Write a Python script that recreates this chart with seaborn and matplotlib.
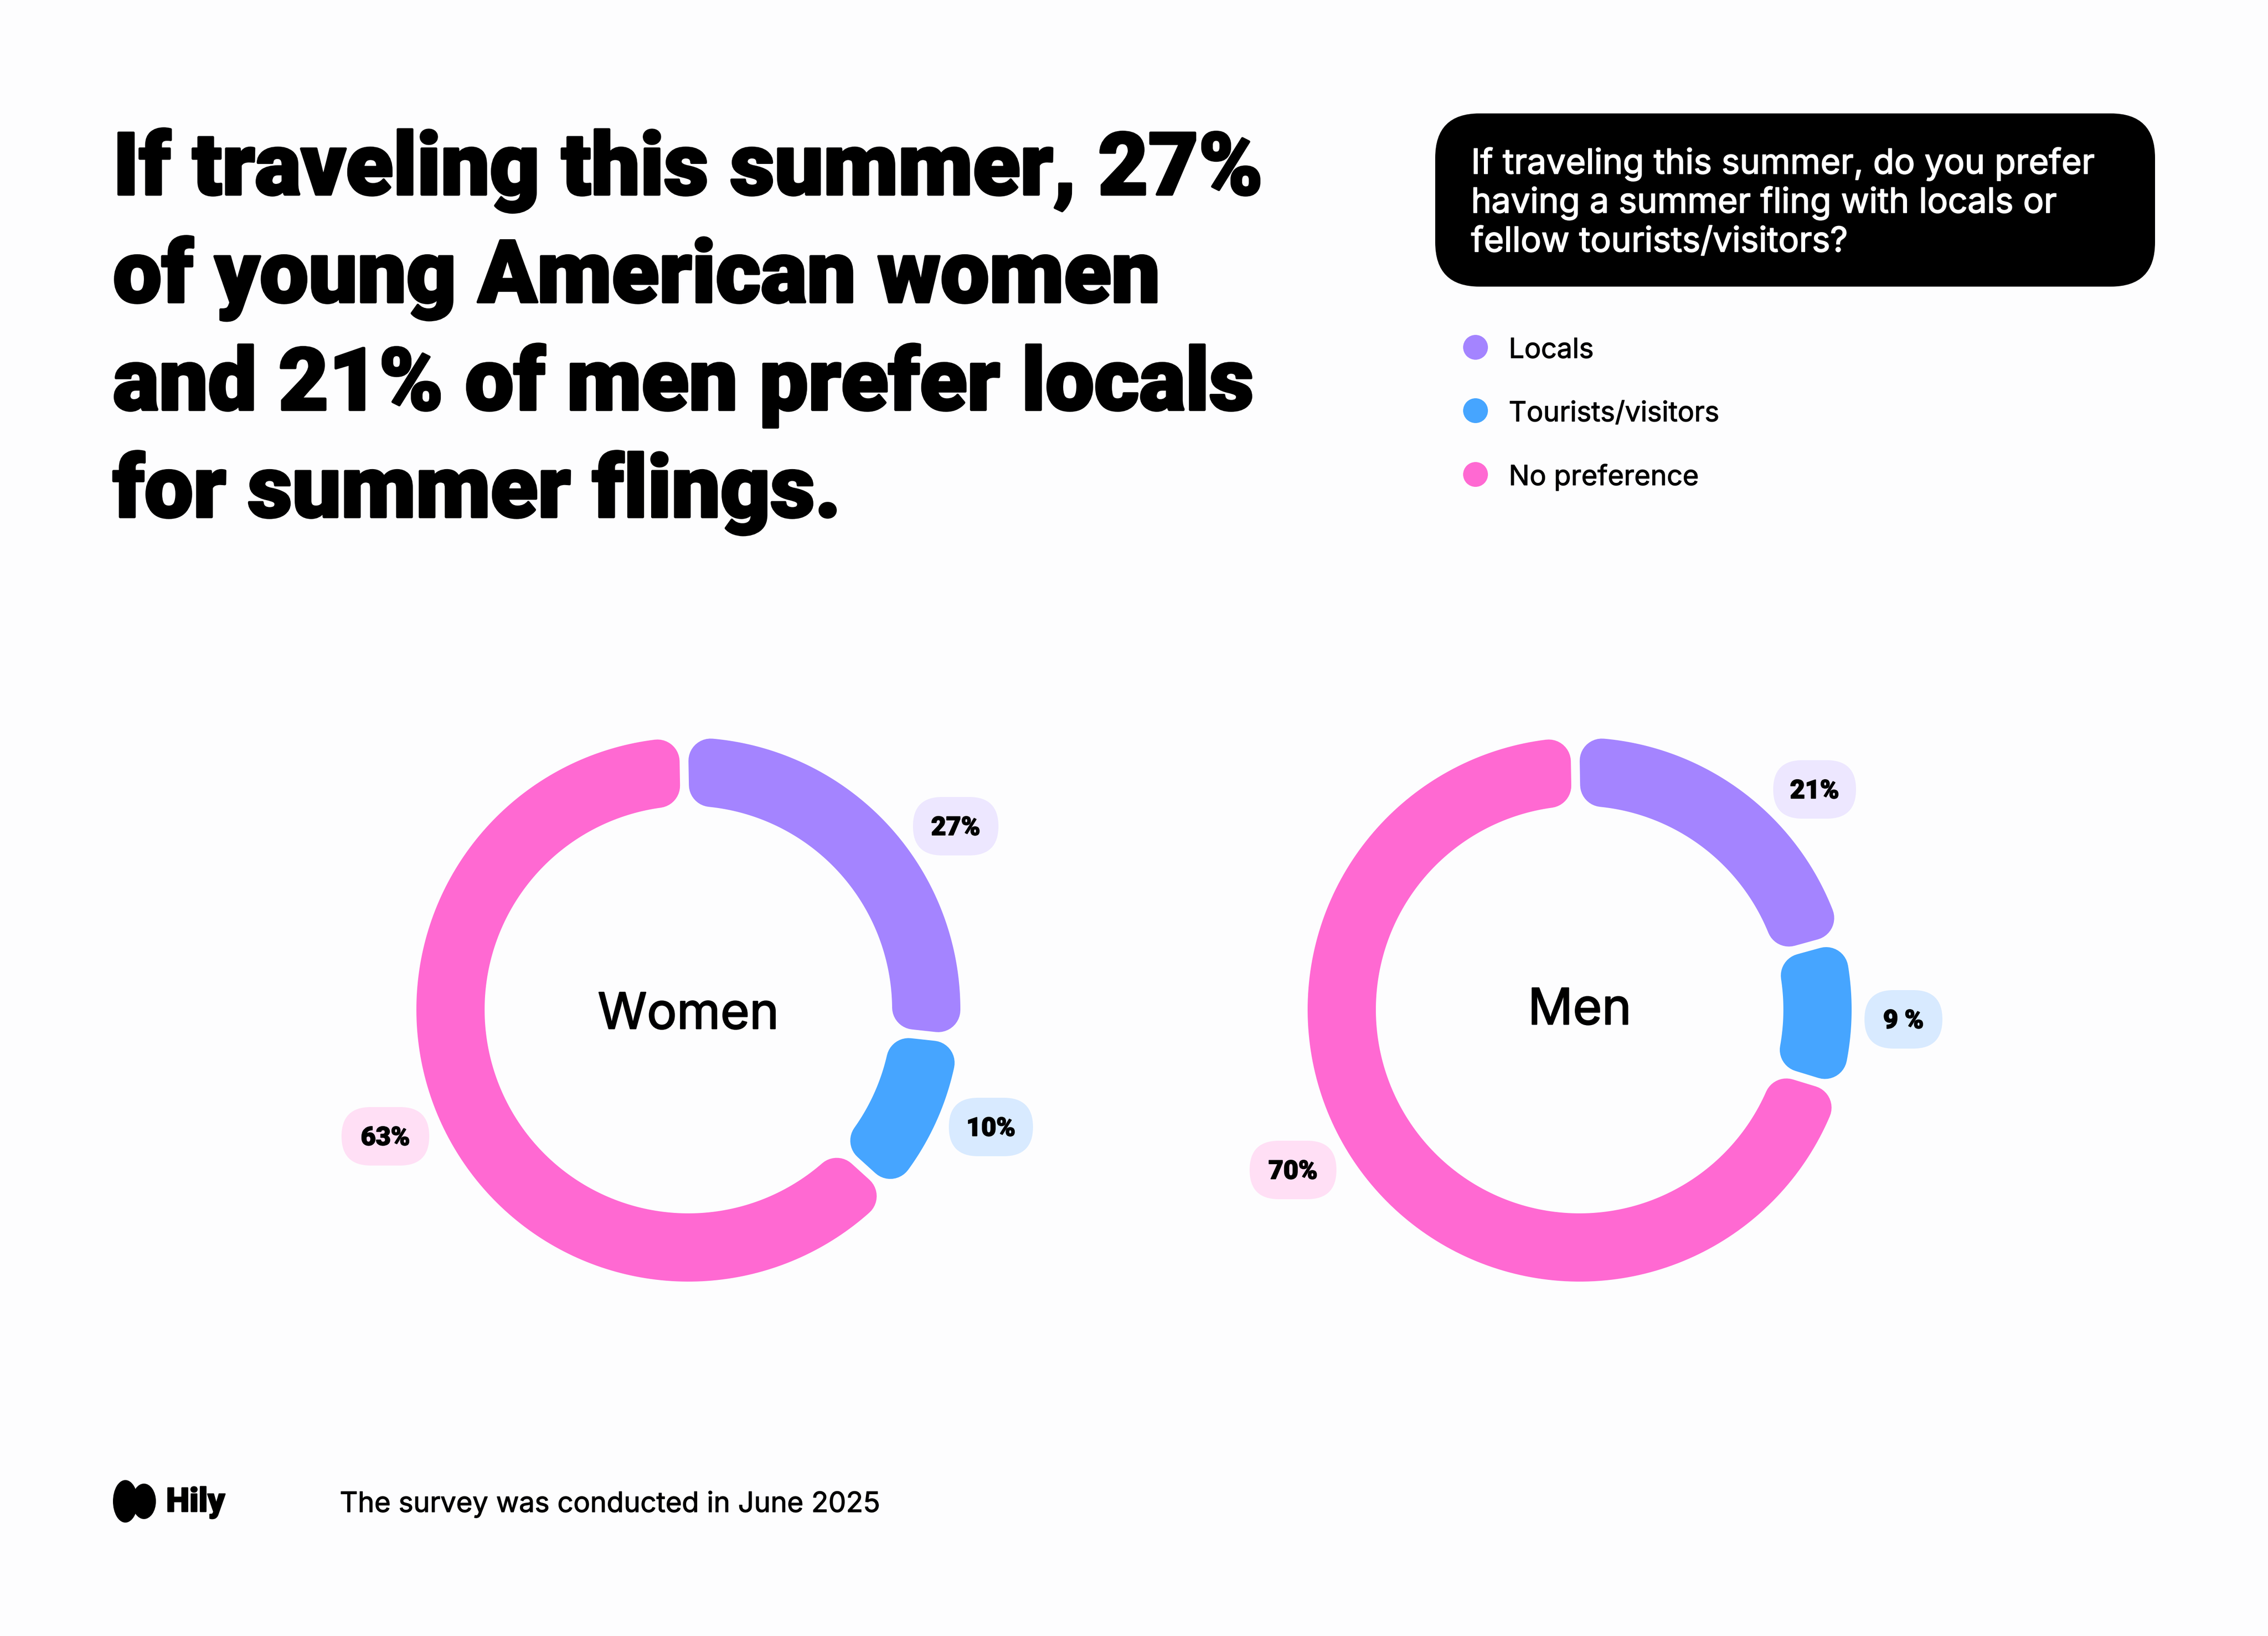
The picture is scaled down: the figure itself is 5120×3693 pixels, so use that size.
import numpy as np
import matplotlib
matplotlib.use('Agg')
import matplotlib.pyplot as plt
import matplotlib.patheffects as pe
from matplotlib.patches import FancyBboxPatch, Ellipse, Rectangle
import seaborn as sns

categories = ['Locals', 'Tourists/visitors', 'No preference']
colors = ['#A484FF', '#46A5FF', '#FF69D2']
pill_colors = ['#EDE7FF', '#D8EAFF', '#FFDFF5']

women_values = [27, 10, 63]
men_values = [21, 9, 70]
women_labels = ['27%', '10%', '63%']
men_labels = ['21%', '9 %', '70%']

title_lines = ['If traveling this summer, 27%', 'of young American women',
               'and 21% of men prefer locals', 'for summer flings.']
question_lines = ['If traveling this summer, do you prefer',
                  'having a summer fling with locals or',
                  'fellow tourists/visitors?']
footer = 'The survey was conducted in June 2025'

W, H = 5120, 3693
BG = '#FDFDFE'
R_OUT, R_IN = 614, 460
CORNER = 50
GAP = 20
TEXT_FONT = ['Inter', 'DejaVu Sans']
HEAVY_FONT = ['Roboto', 'DejaVu Sans']

sns.set_theme(style='white')
plt.rcParams['font.family'] = TEXT_FONT

fig = plt.figure(figsize=(W / 100, H / 100), dpi=100, facecolor=BG)
ax = fig.add_axes([0, 0, 1, 1])
ax.set_xlim(0, W)
ax.set_ylim(H, 0)
ax.set_axis_off()


def px_text(x, y, s, size, bold=0.0, **kw):
    # bold is an extra stroke in points, the installed fonts are lighter than the original
    t = ax.text(x, y, s, fontsize=size, va='baseline', **kw)
    if bold:
        t.set_path_effects([pe.withStroke(linewidth=bold, foreground=t.get_color())])
    return t


def pill(x0, y0, x1, y1, rad, color):
    ax.add_patch(FancyBboxPatch((x0 + rad, y0 + rad), x1 - x0 - 2 * rad, y1 - y0 - 2 * rad,
                                boxstyle='round,pad=%d,rounding_size=%d' % (rad, rad),
                                fc=color, ec='none'))


def donut(cx, cy, values, name, name_y):
    # polar axes in pixel units so r is the same scale as the page
    pax = fig.add_axes([(cx - R_OUT) / W, 1 - (cy + R_OUT) / H, 2 * R_OUT / W, 2 * R_OUT / H],
                       projection='polar')
    pax.set_theta_zero_location('N')
    pax.set_theta_direction(-1)
    pax.set_ylim(0, R_OUT)
    pax.set_axis_off()
    pax.patch.set_alpha(0)
    ends = np.cumsum([0] + values) / sum(values) * 2 * np.pi - np.deg2rad(1)
    lw_pt = 2 * CORNER * 72 / 100
    for i in range(3):
        r_o = R_OUT - CORNER
        r_i = R_IN + CORNER
        off_o = np.arcsin((GAP / 2 + CORNER) / r_o)
        off_i = np.arcsin((GAP / 2 + CORNER) / r_i)
        t_o = np.linspace(ends[i] + off_o, ends[i + 1] - off_o, 200)
        t_i = np.linspace(ends[i + 1] - off_i, ends[i] + off_i, 200)
        pax.fill(np.r_[t_o, t_i], np.r_[np.full(200, r_o), np.full(200, r_i)],
                 facecolor=colors[i], edgecolor=colors[i], linewidth=lw_pt,
                 joinstyle='round', clip_on=False)
    ax.set_zorder(pax.get_zorder() + 1)
    px_text(cx, name_y, name, 81, bold=2, ha='center', color='black')


# title
for line, y in zip(title_lines, [439, 682, 925, 1167]):
    px_text(255, y, line, 141, bold=4, color='black', family=HEAVY_FONT, weight='black')

# question box and legend
pill(3240, 256, 4865, 647, 100, 'black')
for line, y in zip(question_lines, [392, 480, 568]):
    px_text(3321, y, line, 56, bold=1.5, color='white')

sns.scatterplot(x=[3331, 3331, 3331], y=[784, 927, 1071], hue=categories, palette=colors,
                s=(56 * 0.72) ** 2, linewidth=0, legend=False, ax=ax)
for cat, y in zip(categories, [808, 951, 1095]):
    px_text(3406, y, cat, 45, bold=1, color='black')

# donuts
donut(1554, 2279, women_values, 'Women', 2322)
donut(3566, 2279, men_values, 'Men', 2312)

boxes = [(2061, 1799, 2254, 1931), (2142, 2478, 2332, 2610), (771, 2499, 969, 2631),
         (4003, 1716, 4190, 1848), (4209, 2235, 4385, 2367), (2821, 2575, 3017, 2707)]
for (x0, y0, x1, y1), lab, c in zip(boxes, women_labels + men_labels, pill_colors * 2):
    pill(x0, y0, x1, y1, 66, c)
    px_text((x0 + x1) / 2, (y0 + y1) / 2 + 20, lab, 42, bold=1.5, ha='center', color='black',
            family=HEAVY_FONT, weight='black')

# footer and logo
ax.add_patch(Ellipse((283, 3389), 56, 96, fc='black', ec='none'))
ax.add_patch(Ellipse((325, 3389), 54, 80, fc='black', ec='none'))
ax.add_patch(Rectangle((283, 3368), 42, 40, fc='black', ec='none'))
px_text(375, 3412, 'Hily', 54, bold=2, color='black', family=HEAVY_FONT, weight='black')
px_text(767, 3413, footer, 45.5, bold=1, color='black')

fig.savefig('out.png', dpi=100, facecolor=BG)
